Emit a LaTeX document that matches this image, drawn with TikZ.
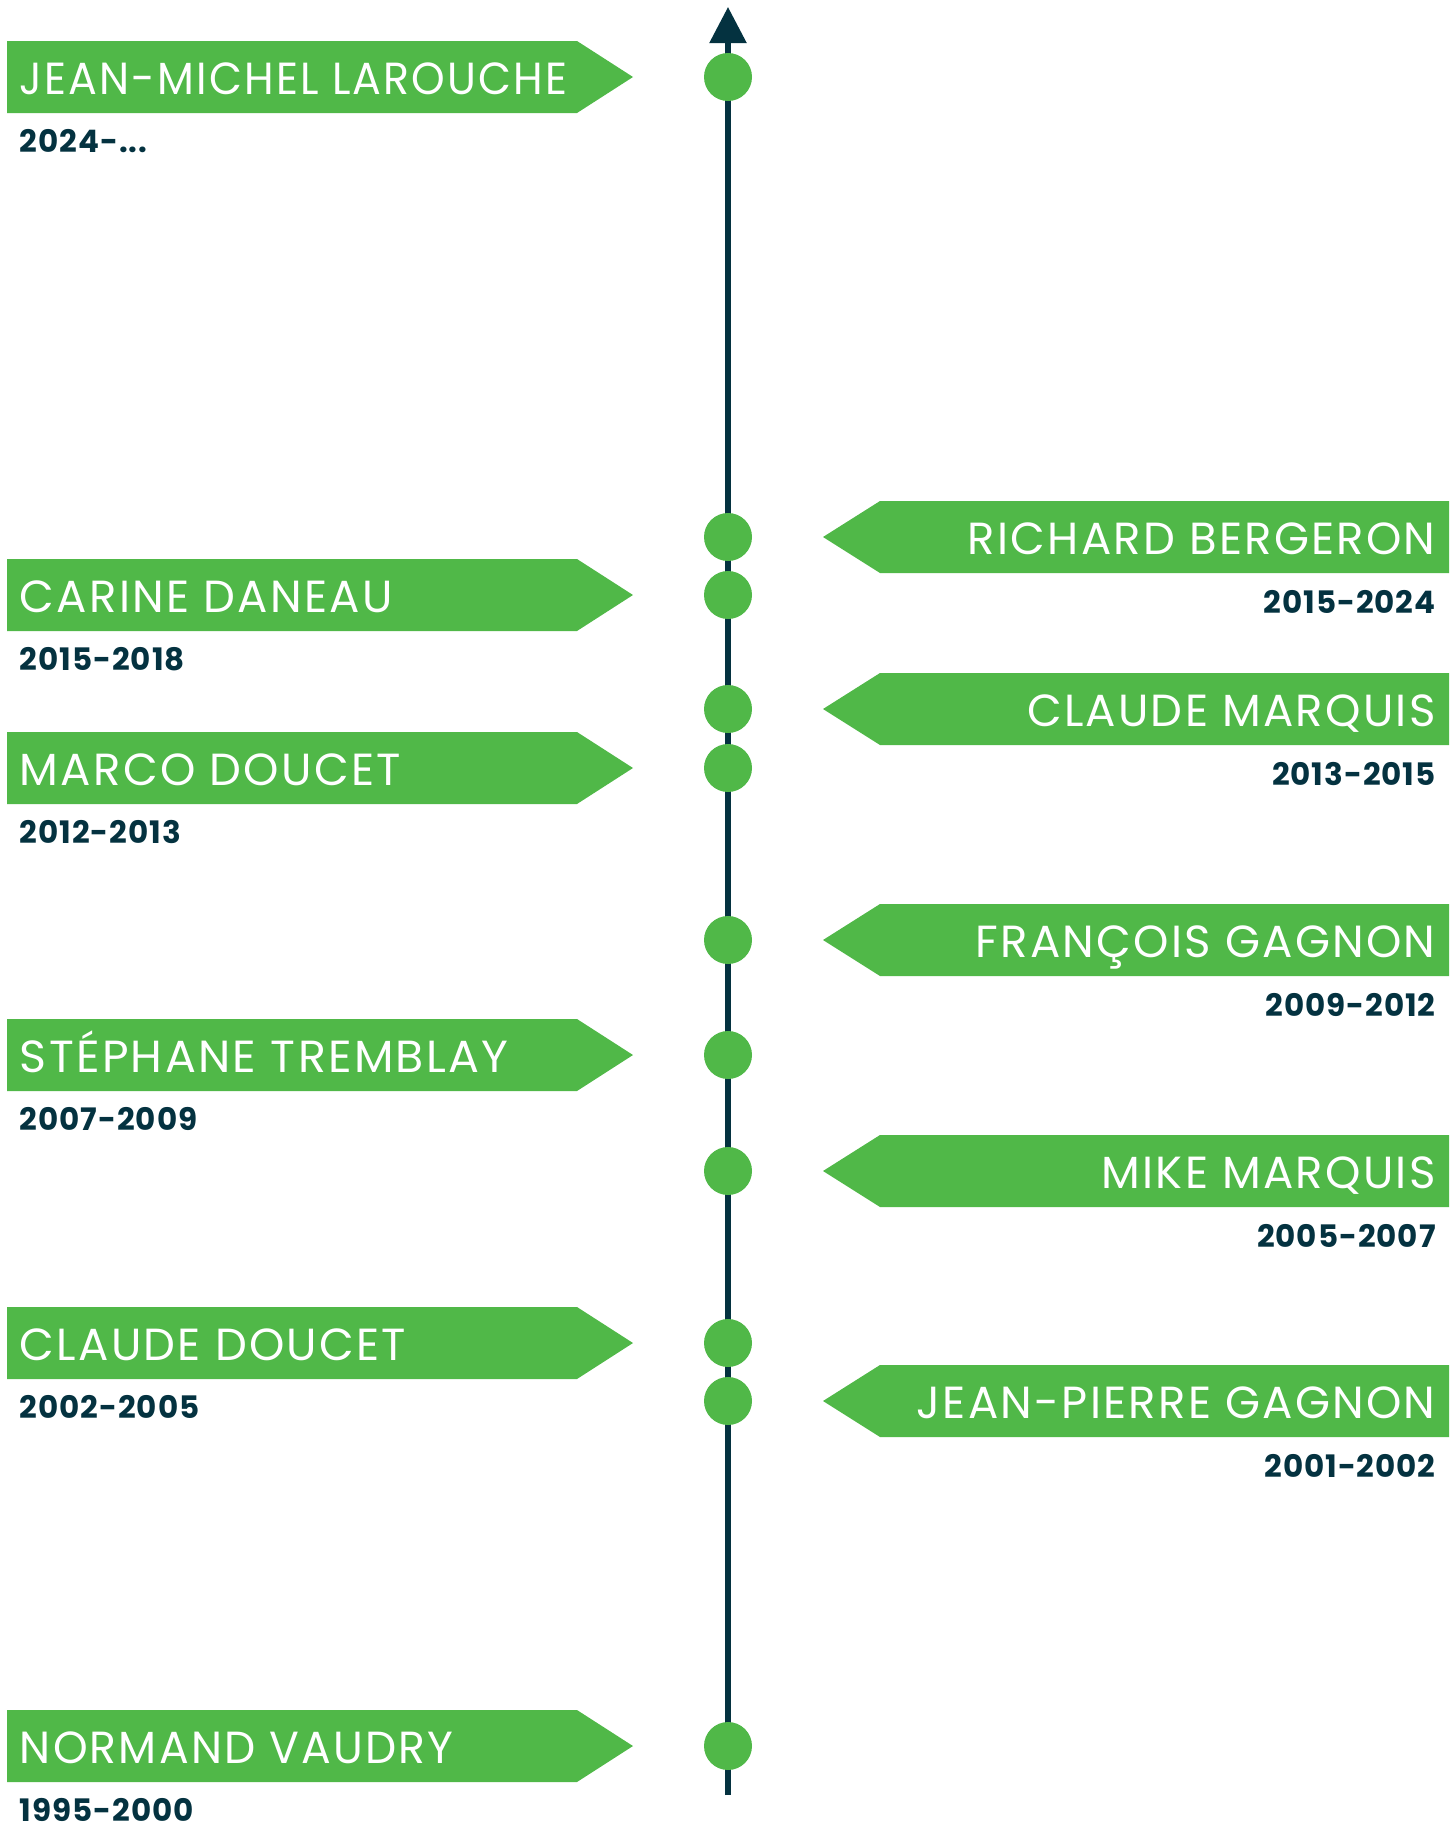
\documentclass[tikz,border=0pt]{standalone}
\usepackage{fontspec}
\setmainfont{Poppins}
\newfontfamily\namefont[LetterSpace=5]{Poppins}
\newfontfamily\yearfont[LetterSpace=3]{Poppins}
\usetikzlibrary{arrows.meta}
\definecolor{grn}{RGB}{80,184,72}
\definecolor{navy}{RGB}{4,50,64}
\begin{document}
\begin{tikzpicture}[x=0.5pt,y=-0.5pt,
  dot/.style={circle,fill=grn,minimum size=24pt,inner sep=0pt},
  nametext/.style={text=white,inner sep=0pt,font=\namefont\fontsize{22.5}{25}\selectfont},
  yeartext/.style={text=navy,inner sep=0pt,font=\yearfont\fontsize{15.5}{18}\bfseries\selectfont},
  banner/.style={fill=grn}]
\useasboundingbox (0,0) rectangle (1456,1826);
% axis
\coordinate (bot) at (728,1795);
\coordinate (top) at (728,7);
\draw[navy,line width=2.75pt,-{Triangle[width=18pt,length=18pt]}] (bot) -- (top);
% left entries
\foreach \y/\nm/\yr/\sc [count=\i] in {77/JEAN-MICHEL LAROUCHE/{2024-.{}.{}.}/0.95,595/CARINE DANEAU/2015-2018/1,768/MARCO DOUCET/2012-2013/1,1055/STÉPHANE TREMBLAY/2007-2009/1.02,1343/CLAUDE DOUCET/2002-2005/1,1746/NORMAND VAUDRY/1995-2000/0.98}{
  \fill[banner] (7,{\y-36}) -- (577,{\y-36}) -- (633,\y) -- (577,{\y+36}) -- (7,{\y+36}) -- cycle;
  \node[nametext,anchor=base west] (ln\i) at (19.5,{\y+17}) {\scalebox{\sc}[1]{\nm}};
  \node[yeartext,anchor=base west] (ly\i) at (19.5,{\y+75}) {\yr};
  \node[dot] (lc\i) at (728,\y) {};
}
% right entries
\foreach \y/\nm/\yr [count=\i] in {537/RICHARD BERGERON/2015-2024,709/CLAUDE MARQUIS/2013-2015,940/FRANÇOIS GAGNON/2009-2012,1171/MIKE MARQUIS/2005-2007,1401/JEAN-PIERRE GAGNON/2001-2002}{
  \fill[banner] (1449,{\y-36}) -- (880,{\y-36}) -- (823,\y) -- (880,{\y+36}) -- (1449,{\y+36}) -- cycle;
  \node[nametext,anchor=base east] (rn\i) at (1436,{\y+17}) {\nm};
  \node[yeartext,anchor=base east] (ry\i) at (1436,{\y+76}) {\yr};
  \node[dot] (rc\i) at (728,\y) {};
}
\end{tikzpicture}
\end{document}
